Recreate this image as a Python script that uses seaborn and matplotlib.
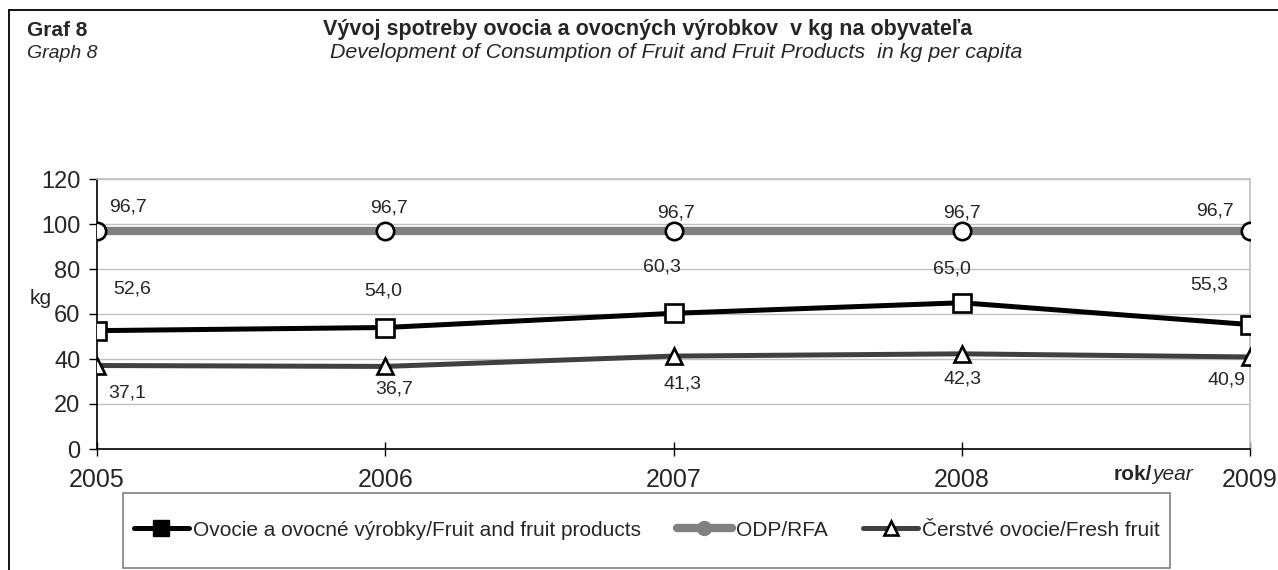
import pandas as pd
import matplotlib.pyplot as plt
import seaborn as sns
from matplotlib.lines import Line2D
from matplotlib.patches import Rectangle

years = [2005, 2006, 2007, 2008, 2009]
fruit_products = [52.6, 54.0, 60.3, 65.0, 55.3]
odp_rfa = [96.7, 96.7, 96.7, 96.7, 96.7]
fresh_fruit = [37.1, 36.7, 41.3, 42.3, 40.9]

lbl_fruit = "Ovocie a ovocné výrobky/Fruit and fruit products"
lbl_odp = "ODP/RFA"
lbl_fresh = "Čerstvé ovocie/Fresh fruit"

# label offsets in pixels (dx, dy), as placed in the original
off_odp = [(31, 24), (4, 23), (2, 18), (0, 18), (-35, 20)]
off_fruit = [(35, 42), (-2, 37), (-12, 46), (-10, 34), (-41, 40)]
off_fresh = [(30, -27), (9, -23), (9, -28), (1, -25), (-24, -23)]

df = pd.DataFrame({"year": years, "fruit": fruit_products,
                   "odp": odp_rfa, "fresh": fresh_fruit})

sns.set_theme(style="white")
plt.rcParams["font.family"] = ["Liberation Sans", "DejaVu Sans"]

W, H = 1278, 570
fig = plt.figure(figsize=(W / 100, H / 100), dpi=100)
ax = fig.add_axes([97 / W, 1 - 449 / H, (1250 - 97) / W, 270 / H])

def fx(px):
    return px / W

def fy(py):
    return 1 - py / H

# figure frame (left and top)
fig.add_artist(Line2D([fx(8.5), fx(8.5)], [0, fy(9.5)], color="black", lw=1.3,
                      transform=fig.transFigure))
fig.add_artist(Line2D([fx(8.5), 1], [fy(9.5), fy(9.5)], color="black", lw=1.3,
                      transform=fig.transFigure))

mk = dict(markerfacecolor="white", markeredgecolor="black", markeredgewidth=1.9)
sns.lineplot(data=df, x="year", y="odp", ax=ax, color="#808080", lw=6.0,
             marker="o", markersize=12.5, zorder=3, **mk)
sns.lineplot(data=df, x="year", y="fruit", ax=ax, color="black", lw=3.6,
             marker="s", markersize=13, zorder=4, **mk)
sns.lineplot(data=df, x="year", y="fresh", ax=ax, color="#404040", lw=3.6,
             marker="^", markersize=12, zorder=4, **mk)

def put_labels(vals, offs):
    for x, v, (dx, dy) in zip(years, vals, offs):
        ax.annotate(f"{v:.1f}".replace(".", ","), (x, v),
                    xytext=(dx * 0.72, dy * 0.72), textcoords="offset points",
                    ha="center", va="center", fontsize=14, zorder=5)

put_labels(odp_rfa, off_odp)
put_labels(fruit_products, off_fruit)
put_labels(fresh_fruit, off_fresh)

ax.set_xlim(2005, 2009)
ax.set_ylim(0, 120)
ax.set_yticks(range(0, 121, 20))
ax.set_xticks(years)
ax.set_xticklabels([str(y) for y in years])
ax.yaxis.grid(True, color="#c0c0c0", lw=1.0)
ax.set_axisbelow(True)
ax.set_xlabel("")
ax.set_ylabel("")

for s in ["top", "right"]:
    ax.spines[s].set_color("#c0c0c0")
    ax.spines[s].set_linewidth(1.2)
for s in ["left", "bottom"]:
    ax.spines[s].set_color("black")
    ax.spines[s].set_linewidth(1.2)

ax.tick_params(axis="y", which="major", left=True, direction="out", length=6,
               width=1, labelsize=17, pad=6, color="black")
ax.tick_params(axis="x", which="major", bottom=True, direction="inout", length=10,
               width=1, labelsize=18, pad=9, color="black")

# units and axis name
fig.text(fx(41), fy(298), "kg", fontsize=15, ha="center", va="center")
fig.text(fx(1152), fy(475), "rok/", fontsize=15, fontweight="bold",
         ha="right", va="center")
fig.text(fx(1152), fy(475), "year", fontsize=15, fontstyle="italic",
         ha="left", va="center")

# titles
fig.text(fx(27), fy(30), "Graf 8", fontsize=15, fontweight="bold",
         ha="left", va="center")
fig.text(fx(27), fy(53), "Graph 8", fontsize=14, fontstyle="italic",
         ha="left", va="center")
fig.text(fx(648), fy(30),
         "Vývoj spotreby ovocia a ovocných výrobkov  v kg na obyvateľa",
         fontsize=15.5, fontweight="bold", ha="center", va="center")
fig.text(fx(676), fy(53),
         "Development of Consumption of Fruit and Fruit Products  in kg per capita",
         fontsize=15.4, fontstyle="italic", ha="center", va="center")

# legend box
fig.add_artist(Rectangle((fx(123), fy(568)), (1170 - 123) / W, 75 / H,
                         transform=fig.transFigure, fill=False, edgecolor="#808080", lw=1.2))
handles = [
    Line2D([], [], color="black", lw=3.6, marker="s", markersize=11,
           markerfacecolor="black", markeredgecolor="black"),
    Line2D([], [], color="#808080", lw=6.0, marker="o", markersize=10,
           markerfacecolor="#808080", markeredgecolor="#808080"),
    Line2D([], [], color="#404040", lw=3.6, marker="^", markersize=10,
           markerfacecolor="white", markeredgecolor="black", markeredgewidth=1.9),
]
fig.legend(handles, [lbl_fruit, lbl_odp, lbl_fresh], loc="center",
           bbox_to_anchor=(fx(647), fy(530)), ncol=3, frameon=False,
           fontsize=15, handlelength=2.65, handletextpad=0.2, columnspacing=1.7)

fig.savefig("out.png", dpi=100)
